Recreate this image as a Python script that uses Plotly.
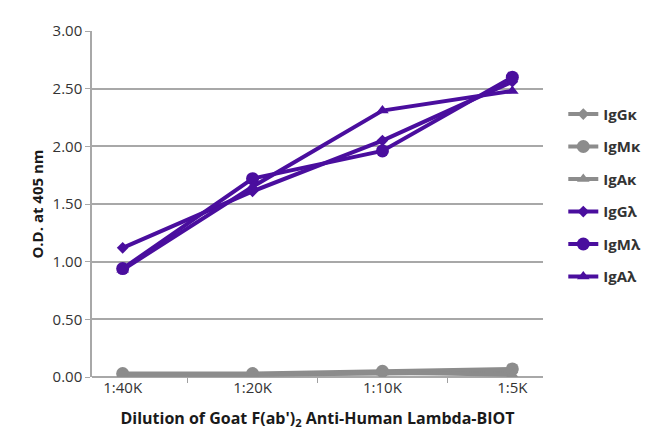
import plotly.graph_objects as go

categories = ["1:40K", "1:20K", "1:10K", "1:5K"]
series_names = ["IgGκ", "IgMκ", "IgAκ", "IgGλ", "IgMλ", "IgAλ"]
igg_k = [0.02, 0.02, 0.03, 0.04]
igm_k = [0.03, 0.03, 0.05, 0.07]
iga_k = [0.02, 0.02, 0.04, 0.02]
igg_l = [1.12, 1.61, 2.05, 2.56]
igm_l = [0.94, 1.72, 1.96, 2.60]
iga_l = [0.93, 1.65, 2.31, 2.48]
y_ticks = [0, 0.5, 1.0, 1.5, 2.0, 2.5, 3.0]

GRAY = "#8C8C8C"
PURPLE = "#4A0E9E"
FONT = "Open Sans"

series = [
    (series_names[0], igg_k, GRAY, "diamond", 9),
    (series_names[1], igm_k, GRAY, "circle", 13),
    (series_names[2], iga_k, GRAY, "triangle-up", 11),
    (series_names[3], igg_l, PURPLE, "diamond", 9),
    (series_names[4], igm_l, PURPLE, "circle", 13),
    (series_names[5], iga_l, PURPLE, "triangle-up", 11),
]

fig = go.Figure()
for i, (name, vals, color, sym, size) in enumerate(series):
    fig.add_trace(go.Scatter(
        x=categories, y=vals, name=name, mode="lines+markers",
        line=dict(color=color, width=4),
        marker=dict(symbol=sym, size=size, color=color),
        legendgroup=f"g{i}",
    ))

fig.update_layout(
    width=650, height=432,
    margin=dict(l=84, r=110, t=21, b=63),
    paper_bgcolor="white", plot_bgcolor="white",
    font=dict(family=FONT, size=15, color="#333333"),
    showlegend=True,
    legend=dict(
        x=1.045, y=0.807, xanchor="left", yanchor="top",
        font=dict(family=FONT, size=15, color="#333333", weight="bold"),
        tracegroupgap=10, itemwidth=30, bgcolor="rgba(0,0,0,0)",
    ),
    xaxis=dict(
        type="category", categoryorder="array", categoryarray=categories,
        tickson="boundaries", ticks="outside", ticklen=5, tickcolor="#A0A0A0",
        showline=False, showgrid=False, zeroline=False,
        tickfont=dict(family=FONT, size=15, color="#333333"),
        title=dict(text="Dilution of Goat F(ab')<sub>2</sub> Anti-Human Lambda-BIOT",
                   font=dict(family=FONT, size=16, color="#1a1a1a", weight="bold"),
                   standoff=16),
    ),
    yaxis=dict(
        range=[0, 3.0], tickvals=y_ticks, tickformat=".2f",
        showgrid=True, gridcolor="#A8A8A8", gridwidth=1.5,
        showline=True, linecolor="#A8A8A8", linewidth=1.5,
        ticks="outside", ticklen=5, tickcolor="#A8A8A8",
        zeroline=True, zerolinecolor="#A8A8A8", zerolinewidth=1.5,
        tickfont=dict(family=FONT, size=15, color="#333333"),
        title=dict(text="O.D. at 405 nm",
                   font=dict(family=FONT, size=15, color="#1a1a1a", weight="bold"),
                   standoff=5),
    ),
)

fig.write_html("out.html")
